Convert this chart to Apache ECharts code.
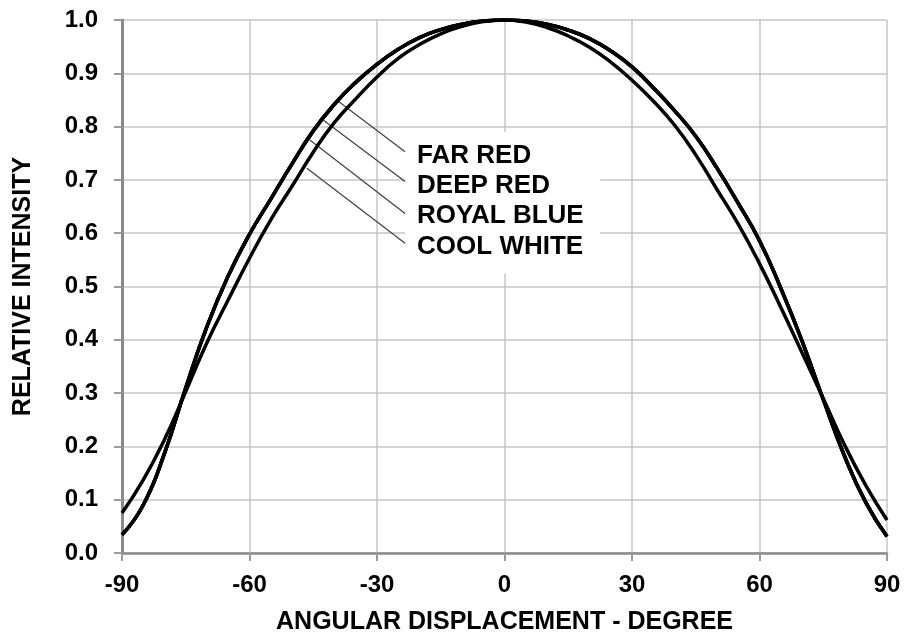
<!DOCTYPE html>
<html>
<head>
<meta charset="utf-8">
<script src="https://cdn.jsdelivr.net/npm/echarts@6/dist/echarts.min.js"></script>
<style>
html,body{margin:0;padding:0;background:#fff;}
#chart{width:906px;height:636px;}
</style>
</head>
<body>
<div id="chart"></div>
<script>
// Angular displacement (degrees)
const angles = [-90,-85,-80,-75,-70,-65,-60,-55,-50,-45,-40,-35,-30,-25,-20,-15,-10,-5,0,5,10,15,20,25,30,35,40,45,50,55,60,65,70,75,80,85,90];
// Relative intensity – FAR RED / DEEP RED / ROYAL BLUE (coincident curve)
const colorLedIntensity = [0.034,0.090,0.187,0.310,0.425,0.520,0.598,0.664,0.730,0.792,0.842,0.883,0.917,0.945,0.967,0.982,0.992,0.998,1.0,0.998,0.992,0.981,0.965,0.942,0.912,0.873,0.830,0.782,0.722,0.656,0.586,0.497,0.398,0.288,0.182,0.095,0.031];
// Relative intensity – COOL WHITE
const coolWhiteIntensity = [0.075,0.137,0.213,0.303,0.395,0.475,0.553,0.625,0.688,0.752,0.808,0.852,0.893,0.928,0.954,0.974,0.988,0.997,1.0,0.996,0.986,0.970,0.949,0.921,0.887,0.848,0.803,0.747,0.682,0.617,0.543,0.461,0.376,0.290,0.203,0.127,0.062];
const seriesNames = ['FAR RED','DEEP RED','ROYAL BLUE','COOL WHITE'];
// annotation anchors (data coordinates): leader start on curve, leader end, label anchor
const leaderStart = [[-39.5,0.850],[-42.6,0.812],[-45.8,0.775],[-46.5,0.722]];
const leaderEnd = [[-23.4,0.753],[-23.4,0.697],[-23.4,0.637],[-23.4,0.581]];
const labelAnchor = [[-21.4,0.745],[-21.4,0.689],[-21.4,0.632],[-21.4,0.574]];
const labelBox = [[-23.4,0.79],[22.5,0.525]];

const FONT = "'Liberation Sans', Arial, sans-serif";
const chart = echarts.init(document.getElementById('chart'));

const seriesData = [colorLedIntensity, colorLedIntensity, colorLedIntensity, coolWhiteIntensity];

const series = seriesNames.map((name, i) => {
  const s = {
    name: name,
    type: 'line',
    data: angles.map((a, j) => [a, seriesData[i][j]]),
    smooth: 0.5,
    showSymbol: false,
    symbol: 'none',
    lineStyle: {color: '#000', width: 3.5},
    z: 5,
    markLine: {
      silent: true,
      symbol: ['none','none'],
      lineStyle: {color: '#404040', width: 1.2, type: 'solid'},
      label: {show: false},
      z: 3,
      data: [[{coord: leaderStart[i]}, {coord: leaderEnd[i]}]]
    },
    markPoint: {
      silent: true,
      symbol: 'circle',
      symbolSize: 1,
      itemStyle: {color: 'rgba(0,0,0,0)'},
      label: {
        show: true, position: 'right', distance: 3,
        formatter: name, color: '#000',
        fontFamily: FONT, fontWeight: 'bold', fontSize: 26
      },
      data: [{coord: labelAnchor[i]}]
    }
  };
  if (i === 0) {
    s.markArea = {
      silent: true,
      itemStyle: {color: '#ffffff', opacity: 1},
      data: [[{coord: labelBox[0]}, {coord: labelBox[1]}]]
    };
  }
  return s;
});

chart.setOption({
  animation: false,
  backgroundColor: '#fff',
  grid: {left: 122, right: 19, top: 20, bottom: 83, containLabel: false, outerBoundsMode: 'none'},
  xAxis: {
    type: 'value', min: -90, max: 90, interval: 30,
    name: 'ANGULAR DISPLACEMENT - DEGREE',
    nameLocation: 'middle', nameGap: 57,
    nameTextStyle: {color: '#000', fontFamily: FONT, fontWeight: 'bold', fontSize: 25},
    axisLine: {show: true, onZero: false, lineStyle: {color: '#8a8a8a', width: 2.5}},
    axisTick: {show: true, inside: false, length: 8, lineStyle: {color: '#9a9a9a', width: 2}},
    axisLabel: {color: '#000', fontFamily: FONT, fontWeight: 'bold', fontSize: 24, margin: 20,
      formatter: v => String(v)},
    splitLine: {show: true, lineStyle: {color: '#c6c6c6', width: 1.5}}
  },
  yAxis: {
    type: 'value', min: 0, max: 1, interval: 0.1,
    name: 'RELATIVE INTENSITY',
    nameLocation: 'middle', nameGap: 86,
    nameTextStyle: {color: '#000', fontFamily: FONT, fontWeight: 'bold', fontSize: 25},
    axisLine: {show: true, onZero: false, lineStyle: {color: '#8a8a8a', width: 3}},
    axisTick: {show: true, inside: false, length: 8, lineStyle: {color: '#9a9a9a', width: 2}},
    axisLabel: {color: '#000', fontFamily: FONT, fontWeight: 'bold', fontSize: 24, margin: 24,
      formatter: v => v.toFixed(1)},
    splitLine: {show: true, lineStyle: {color: '#c6c6c6', width: 1.5}}
  },
  series: series
});
</script>
</body>
</html>
